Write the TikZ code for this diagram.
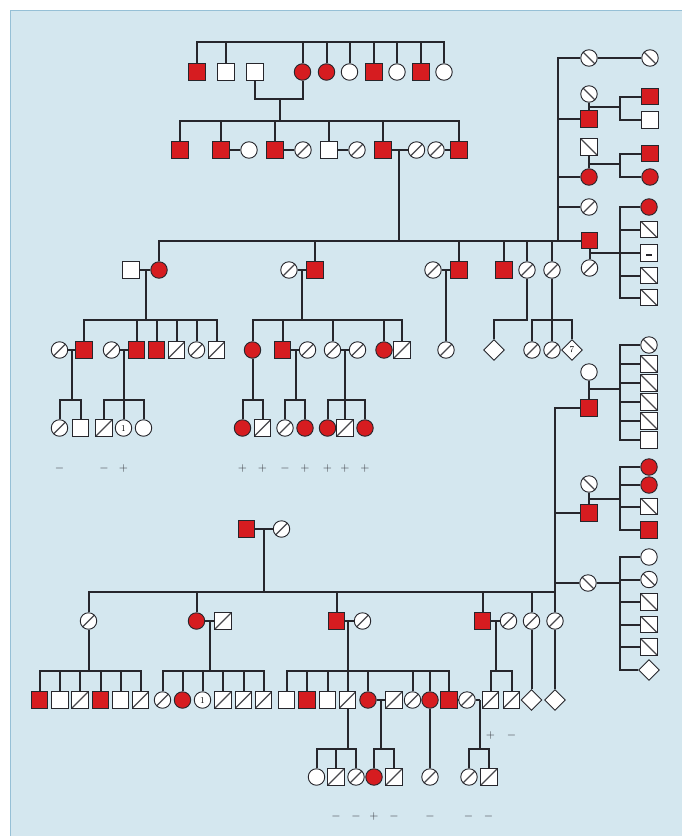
\documentclass[tikz,border=0pt]{standalone}
\usetikzlibrary{shapes.geometric}
\definecolor{aff}{RGB}{214,28,32}
\definecolor{ink}{RGB}{38,38,44}
\definecolor{bgc}{RGB}{212,231,239}
\definecolor{rim}{RGB}{150,192,214}
\definecolor{signc}{RGB}{45,45,52}
\tikzset{
 sym/.style={draw=ink, line width=0.9pt, inner sep=0pt, minimum size=16.5pt},
 asq/.style={sym, rectangle, fill=aff},
 usq/.style={sym, rectangle, fill=white},
 aci/.style={sym, circle, fill=aff},
 uci/.style={sym, circle, fill=white},
 fwd/.style={path picture={\draw[ink!85, line width=1.2pt] (path picture bounding box.south west) -- (path picture bounding box.north east);}},
 bwd/.style={path picture={\draw[ink!85, line width=1.2pt] (path picture bounding box.north west) -- (path picture bounding box.south east);}},
 ssq/.style={usq, fwd},
 bsq/.style={usq, bwd},
 sci/.style={uci, fwd},
 bci/.style={uci, bwd},
 dsq/.style={usq, path picture={\draw[ink, line width=1.2pt] ([xshift=-3pt,yshift=-2pt]path picture bounding box.center) -- ([xshift=3pt,yshift=-2pt]path picture bounding box.center);}},
 cone/.style={uci, font=\small},
 dia/.style={draw=ink, line width=0.9pt, diamond, fill=white, inner sep=0pt, minimum width=21pt, minimum height=21pt, font=\small},
 link/.style={draw=ink, line width=2pt},
 sign/.style={text=signc, font=\large, inner sep=0pt}
}
\begin{document}
\begin{tikzpicture}[x=1pt,y=-1pt]
\useasboundingbox (0,0) rectangle (682,836);
\fill[white] (0,0) rectangle (682,836);
\fill[bgc] (10,10) rectangle (682,836);
\draw[rim, line width=1pt] (10,836) -- (10,10) -- (682,10);

% ---------------- Generation I
\node[asq] (g1a) at (197,72) {};
\node[usq] (g1b) at (226,72) {};
\node[usq] (g1c) at (255,72) {};
\node[aci] (g1d) at (302.5,72) {};
\node[aci] (g1e) at (326.5,72) {};
\node[uci] (g1f) at (349.5,72) {};
\node[asq] (g1g) at (374,72) {};
\node[uci] (g1h) at (397,72) {};
\node[asq] (g1i) at (421,72) {};
\node[uci] (g1j) at (444,72) {};
\coordinate (b1) at (0,42);
\draw[link] (g1a.north) |- (g1j.north |- b1) -- (g1j.north);
\foreach \nn in {g1b,g1d,g1e,g1f,g1g,g1h,g1i} \draw[link] (\nn.north) -- (\nn.north |- b1);
\coordinate (m1) at (280,99);
\draw[link] (g1c.south) |- (m1) -| (g1d.south);

% ---------------- Generation II
\coordinate (b2) at (0,121);
\draw[link] (m1) -- (m1 |- b2);
\node[asq] (g2a) at (180,150) {};
\node[asq] (g2b) at (221,150) {};
\node[uci] (g2bw) at (249,150) {};
\node[asq] (g2c) at (275,150) {};
\node[sci] (g2cw) at (303,150) {};
\node[usq] (g2d) at (329,150) {};
\node[sci] (g2dw) at (357,150) {};
\node[asq] (g2e) at (383,150) {};
\node[sci] (g2ew) at (416.5,150) {};
\node[sci] (g2f) at (436,150) {};
\node[asq] (g2g) at (459,150) {};
\draw[link] (g2a.north) |- (g2g.north |- b2) -- (g2g.north);
\foreach \nn in {g2b,g2c,g2d,g2e} \draw[link] (\nn.north) -- (\nn.north |- b2);
\draw[link] (g2b) -- (g2bw);
\draw[link] (g2c) -- (g2cw);
\draw[link] (g2d) -- (g2dw);
\draw[link] (g2e) -- (g2ew);
\draw[link] (g2f) -- (g2g);
\coordinate (m2) at (399,150);
\coordinate (b3) at (0,240.5);
\draw[link] (m2) -- (m2 |- b3);

% ---------------- Generation III
\node[usq] (g3a) at (131,270) {};
\node[aci] (g3b) at (159,270) {};
\node[sci] (g3c) at (289,270) {};
\node[asq] (g3d) at (315,270) {};
\node[sci] (g3e) at (433,270) {};
\node[asq] (g3f) at (459,270) {};
\node[asq] (g3g) at (504,270) {};
\node[sci] (g3h) at (527,270) {};
\node[sci] (g3i) at (552,270) {};
\node[asq] (r5) at (589.5,240.5) {};
\draw[link] (g3b.north) |- (r5.west);
\foreach \nn in {g3d,g3f,g3g,g3h,g3i} \draw[link] (\nn.north) -- (\nn.north |- b3);
\draw[link] (g3a) -- (g3b);
\draw[link] (g3c) -- (g3d);
\draw[link] (g3e) -- (g3f);
\coordinate (m3a) at (145.5,270);
\coordinate (m3b) at (302,270);
\coordinate (m3c) at (446,270);

% right column, upper
\coordinate (v1bot) at (558,240.5);
\node[bci] (r1a) at (589,58) {};
\node[bci] (r1b) at (650,58) {};
\draw[link] (r1a.west) -| (v1bot);
\draw[link] (r1a) -- (r1b);

\node[bci] (r2w) at (589,94) {};
\node[asq] (r2) at (589,119) {};
\node[asq] (r2c1) at (650,96.5) {};
\node[usq] (r2c2) at (650,120) {};
\draw[link] (r2.west) -- (r2.west -| v1bot);
\draw[link] (r2w) -- (r2);
\coordinate (r2m) at (589,107);
\coordinate (r2v) at (620,107);
\draw[link] (r2m) -- (r2v);
\draw[link] (r2c1.west) -| (r2v);
\draw[link] (r2c2.west) -| (r2v);

\node[bsq] (r3w) at (589,147) {};
\node[aci] (r3) at (589,177) {};
\node[asq] (r3c1) at (650,153.5) {};
\node[aci] (r3c2) at (650,177) {};
\draw[link] (r3.west) -- (r3.west -| v1bot);
\draw[link] (r3w) -- (r3);
\coordinate (r3m) at (589,163.5);
\coordinate (r3v) at (620,163.5);
\draw[link] (r3m) -- (r3v);
\draw[link] (r3c1.west) -| (r3v);
\draw[link] (r3c2.west) -| (r3v);

\node[sci] (r4) at (589,207) {};
\draw[link] (r4.west) -- (r4.west -| v1bot);

\node[sci] (r5w) at (589.5,268) {};
\draw[link] (r5) -- (r5w);
\node[aci] (r5c1) at (649,207) {};
\node[bsq] (r5c2) at (649,229.5) {};
\node[dsq] (r5c3) at (649,253) {};
\node[bsq] (r5c4) at (649,275.5) {};
\node[bsq] (r5c5) at (649,297.5) {};
\coordinate (r5m) at (589.5,253);
\coordinate (r5v) at (620,253);
\draw[link] (r5m) -- (r5v);
\foreach \nn in {r5c1,r5c2,r5c3,r5c4,r5c5} \draw[link] (\nn.west) -| (r5v);

% ---------------- Generation IV
\coordinate (b4) at (0,319.5);
\node[sci] (g4a) at (59.5,350) {};
\node[asq] (g4b) at (84,350) {};
\node[sci] (g4c) at (111.5,350) {};
\node[asq] (g4d) at (136.5,350) {};
\node[asq] (g4e) at (156.5,350) {};
\node[ssq] (g4f) at (176.5,350) {};
\node[sci] (g4g) at (196.5,350) {};
\node[ssq] (g4h) at (216.5,350) {};
\draw[link] (m3a) -- (m3a |- b4);
\draw[link] (g4b.north) |- (g4h.north |- b4) -- (g4h.north);
\foreach \nn in {g4d,g4e,g4f,g4g} \draw[link] (\nn.north) -- (\nn.north |- b4);
\draw[link] (g4a) -- (g4b);
\draw[link] (g4c) -- (g4d);
\coordinate (m4a) at (71.5,350);
\coordinate (m4b) at (123.5,350);

\node[aci] (g4i) at (252.5,350) {};
\node[asq] (g4j) at (282.5,350) {};
\node[sci] (g4k) at (307.5,350) {};
\node[sci] (g4l) at (332.5,350) {};
\node[sci] (g4m) at (357.5,350) {};
\node[aci] (g4n) at (384,350) {};
\node[ssq] (g4o) at (402,350) {};
\draw[link] (m3b) -- (m3b |- b4);
\draw[link] (g4i.north) |- (g4o.north |- b4) -- (g4o.north);
\foreach \nn in {g4j,g4l,g4n} \draw[link] (\nn.north) -- (\nn.north |- b4);
\draw[link] (g4j) -- (g4k);
\draw[link] (g4l) -- (g4m);
\coordinate (m4d) at (296,350);
\coordinate (m4e) at (345,350);

\node[sci] (g4p) at (446,350) {};
\draw[link] (m3c) -- (g4p);
\node[dia] (g4q) at (494,350) {};
\node[sci] (g4r) at (532,350) {};
\node[sci] (g4s) at (552,350) {};
\node[dia] (g4t) at (572,350) {7};
\coordinate (kh) at (494,319.5);
\draw[link] (g3h.south) |- (kh) -- (g4q.north);
\draw[link] (g3i) -- (g4s);
\draw[link] (g4r.north) |- (g4t.north |- b4) -- (g4t.north);

% ---------------- Generation V (upper)
\coordinate (b5) at (0,399.5);
\node[sci] (g5a) at (59.5,428) {};
\node[usq] (g5b) at (80.5,428) {};
\draw[link] (m4a) -- (m4a |- b5);
\draw[link] (g5a.north) |- (g5b.north |- b5) -- (g5b.north);
\node[ssq] (g5c) at (104,428) {};
\node[cone] (g5d) at (123.5,428) {1};
\node[uci] (g5e) at (143.5,428) {};
\draw[link] (m4b) -- (g5d);
\draw[link] (g5c.north) |- (g5e.north |- b5) -- (g5e.north);

\node[aci] (g5f) at (242.5,428) {};
\node[ssq] (g5g) at (262.5,428) {};
\draw[link] (g4i.south) -- (g4i.south |- b5);
\draw[link] (g5f.north) |- (g5g.north |- b5) -- (g5g.north);
\node[sci] (g5h) at (285,428) {};
\node[aci] (g5i) at (305,428) {};
\draw[link] (m4d) -- (m4d |- b5);
\draw[link] (g5h.north) |- (g5i.north |- b5) -- (g5i.north);
\node[aci] (g5j) at (327.5,428) {};
\node[ssq] (g5k) at (345,428) {};
\node[aci] (g5l) at (365,428) {};
\draw[link] (m4e) -- (g5k);
\draw[link] (g5j.north) |- (g5l.north |- b5) -- (g5l.north);

\node[sign] (sa1) at (59.5,468) {$-$};
\node[sign] (sa2) at (104,468) {$-$};
\node[sign] (sa3) at (123.5,468) {$+$};
\node[sign] (sa4) at (242.5,468) {$+$};
\node[sign] (sa5) at (262.5,468) {$+$};
\node[sign] (sa6) at (285,468) {$-$};
\node[sign] (sa7) at (305,468) {$+$};
\node[sign] (sa8) at (327.5,468) {$+$};
\node[sign] (sa9) at (345,468) {$+$};
\node[sign] (sa10) at (365,468) {$+$};

% ---------------- right column, lower
\coordinate (v2bot) at (555,592);
\node[uci] (s1w) at (589,372) {};
\node[asq] (s1) at (589,408) {};
\draw[link] (s1w) -- (s1);
\draw[link] (s1.west) -| (v2bot);
\coordinate (s1m) at (589,389);
\coordinate (s1v) at (620,389);
\draw[link] (s1m) -- (s1v);
\node[bci] (s1c1) at (649,345) {};
\node[bsq] (s1c2) at (649,364) {};
\node[bsq] (s1c3) at (649,383) {};
\node[bsq] (s1c4) at (649,402) {};
\node[bsq] (s1c5) at (649,421) {};
\node[usq] (s1c6) at (649,440) {};
\foreach \nn in {s1c1,s1c2,s1c3,s1c4,s1c5,s1c6} \draw[link] (\nn.west) -| (s1v);

\node[bci] (s2w) at (589,484) {};
\node[asq] (s2) at (589,513) {};
\draw[link] (s2w) -- (s2);
\draw[link] (s2.west) -- (s2.west -| v2bot);
\coordinate (s2m) at (589,499);
\coordinate (s2v) at (620,499);
\draw[link] (s2m) -- (s2v);
\node[aci] (s2c1) at (649,467) {};
\node[aci] (s2c2) at (649,485) {};
\node[bsq] (s2c3) at (649,506.5) {};
\node[asq] (s2c4) at (649,530) {};
\foreach \nn in {s2c1,s2c2,s2c3,s2c4} \draw[link] (\nn.west) -| (s2v);

\node[bci] (s3) at (588,583) {};
\draw[link] (s3.west) -- (s3.west -| v2bot);
\coordinate (s3v) at (620,583);
\draw[link] (s3) -- (s3v);
\node[uci] (s3c1) at (649,557) {};
\node[bci] (s3c2) at (649,579.5) {};
\node[bsq] (s3c3) at (649,602) {};
\node[bsq] (s3c4) at (649,624.5) {};
\node[bsq] (s3c5) at (649,647) {};
\node[dia] (s3c6) at (649,670) {};
\foreach \nn in {s3c1,s3c2,s3c3,s3c4,s3c5,s3c6} \draw[link] (\nn.west) -| (s3v);

% ---------------- lower family
\node[asq] (p1) at (246.5,529) {};
\node[sci] (p1w) at (281.5,529) {};
\draw[link] (p1) -- (p1w);
\coordinate (m6) at (264,529);
\coordinate (b6) at (0,592);
\draw[link] (m6) -- (m6 |- b6);

\node[sci] (h1) at (88.5,621) {};
\node[aci] (h2) at (196.5,621) {};
\node[ssq] (h2w) at (223,621) {};
\node[asq] (h3) at (336.5,621) {};
\node[sci] (h3w) at (362.5,621) {};
\node[asq] (h4) at (482.5,621) {};
\node[sci] (h4w) at (508.5,621) {};
\node[sci] (h5) at (531.5,621) {};
\node[sci] (h6) at (555,621) {};
\draw[link] (h1.north) |- (v2bot) -- (h6.north);
\foreach \nn in {h2,h3,h4,h5} \draw[link] (\nn.north) -- (\nn.north |- b6);
\draw[link] (h2) -- (h2w);
\draw[link] (h3) -- (h3w);
\draw[link] (h4) -- (h4w);
\coordinate (m7a) at (209.5,621);
\coordinate (m7b) at (347.5,621);
\coordinate (m7c) at (495.5,621);
\coordinate (b7) at (0,670.5);

\node[asq] (i1) at (39.5,700) {};
\node[usq] (i2) at (60,700) {};
\node[ssq] (i3) at (80,700) {};
\node[asq] (i4) at (100.5,700) {};
\node[usq] (i5) at (120.5,700) {};
\node[ssq] (i6) at (140.5,700) {};
\draw[link] (h1.south) -- (h1.south |- b7);
\draw[link] (i1.north) |- (i6.north |- b7) -- (i6.north);
\foreach \nn in {i2,i3,i4,i5} \draw[link] (\nn.north) -- (\nn.north |- b7);

\node[sci] (j1) at (162.5,700) {};
\node[aci] (j2) at (182.5,700) {};
\node[cone] (j3) at (202.5,700) {1};
\node[ssq] (j4) at (223,700) {};
\node[ssq] (j5) at (243.5,700) {};
\node[ssq] (j6) at (263.5,700) {};
\draw[link] (m7a) -- (m7a |- b7);
\draw[link] (j1.north) |- (j6.north |- b7) -- (j6.north);
\foreach \nn in {j2,j3,j4,j5} \draw[link] (\nn.north) -- (\nn.north |- b7);

\node[usq] (k1) at (286.5,700) {};
\node[asq] (k2) at (307,700) {};
\node[usq] (k3) at (327.5,700) {};
\node[ssq] (k4) at (347.5,700) {};
\node[aci] (k5) at (368,700) {};
\node[ssq] (k5w) at (394,700) {};
\node[sci] (k6) at (412.5,700) {};
\node[aci] (k7) at (430,700) {};
\node[asq] (k8) at (449,700) {};
\node[sci] (k8w) at (467,700) {};
\draw[link] (m7b) -- (m7b |- b7);
\draw[link] (k1.north) |- (k8.north |- b7) -- (k8.north);
\foreach \nn in {k2,k3,k4,k5,k6,k7} \draw[link] (\nn.north) -- (\nn.north |- b7);
\draw[link] (k5) -- (k5w);
\draw[link] (k8) -- (k8w);
\coordinate (m8a) at (381,700);
\coordinate (m8b) at (479.5,700);
\draw[link] (k8w.east) -- (m8b);

\node[ssq] (l1) at (490.5,700) {};
\node[ssq] (l2) at (511.5,700) {};
\draw[link] (m7c) -- (m7c |- b7);
\draw[link] (l1.north) |- (l2.north |- b7) -- (l2.north);
\node[dia] (dm1) at (531.5,700) {};
\node[dia] (dm2) at (555,700) {};
\draw[link] (h5) -- (dm1);
\draw[link] (h6) -- (dm2);

\node[sign] (sb1) at (490.5,735) {$+$};
\node[sign] (sb2) at (511.5,735) {$-$};

% ---------------- bottom generation
\coordinate (b8) at (0,748.5);
\node[uci] (n1) at (316.5,777) {};
\node[ssq] (n2) at (336,777) {};
\node[sci] (n3) at (356,777) {};
\draw[link] (k4.south) -- (k4.south |- b8);
\draw[link] (n1.north) |- (n3.north |- b8) -- (n3.north);
\draw[link] (n2.north) -- (n2.north |- b8);
\node[aci] (o1) at (374,777) {};
\node[ssq] (o2) at (394,777) {};
\draw[link] (m8a) -- (m8a |- b8);
\draw[link] (o1.north) |- (o2.north |- b8) -- (o2.north);
\node[sci] (q1) at (430,777) {};
\draw[link] (k7) -- (q1);
\node[sci] (t1) at (469,777) {};
\node[ssq] (t2) at (489,777) {};
\draw[link] (m8b) -- (m8b |- b8);
\draw[link] (t1.north) |- (t2.north |- b8) -- (t2.north);

\node[sign] (sc1) at (336,816) {$-$};
\node[sign] (sc2) at (356,816) {$-$};
\node[sign] (sc3) at (374,816) {$+$};
\node[sign] (sc4) at (394,816) {$-$};
\node[sign] (sc5) at (430,816) {$-$};
\node[sign] (sc6) at (468.5,816) {$-$};
\node[sign] (sc7) at (488.5,816) {$-$};
\end{tikzpicture}
\end{document}
